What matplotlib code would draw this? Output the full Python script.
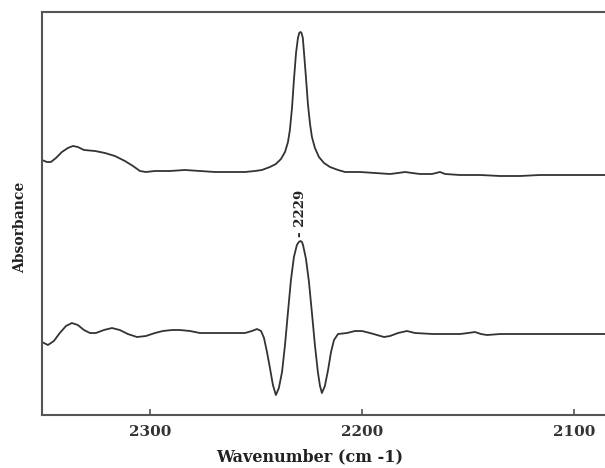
import matplotlib
matplotlib.use("Agg")
import matplotlib.pyplot as plt

# Wavenumber (cm-1) and absorbance (arbitrary units, offset) for the two traces
upper_wn = [2350.9, 2348.6, 2346.7, 2344.3, 2341.5, 2338.7, 2336.3, 2334.0, 2331.1,
            2325.9, 2321.2, 2316.5, 2311.8, 2308.0, 2304.7, 2301.9, 2297.6, 2290.6,
            2283.5, 2276.4, 2269.3, 2262.3, 2255.2, 2250.5, 2247.2, 2243.4, 2240.6,
            2238.2, 2236.3, 2234.9, 2234.0, 2233.0, 2232.1, 2231.1, 2230.2, 2229.6,
            2229.0, 2228.5, 2227.9, 2227.4, 2226.4, 2225.5, 2224.5, 2223.6, 2222.2,
            2220.3, 2217.9, 2215.1, 2211.3, 2208.0, 2200.9, 2193.9, 2186.8, 2183.0,
            2179.7, 2176.4, 2172.6, 2167.0, 2163.2, 2160.8, 2153.8, 2144.3, 2134.9,
            2125.5, 2116.0, 2106.6, 2097.2, 2085.4]
upper_abs = [2.55, 2.53, 2.53, 2.57, 2.63, 2.67, 2.69, 2.68, 2.65,
             2.64, 2.62, 2.59, 2.54, 2.49, 2.44, 2.43, 2.44, 2.44,
             2.45, 2.44, 2.43, 2.43, 2.43, 2.44, 2.45, 2.48, 2.51,
             2.56, 2.63, 2.73, 2.85, 3.07, 3.35, 3.62, 3.77, 3.82,
             3.83, 3.82, 3.77, 3.64, 3.37, 3.11, 2.91, 2.78, 2.67,
             2.58, 2.52, 2.48, 2.45, 2.43, 2.43, 2.42, 2.41, 2.42,
             2.43, 2.42, 2.41, 2.41, 2.43, 2.41, 2.40, 2.40, 2.39,
             2.39, 2.40, 2.40, 2.40, 2.40]

lower_wn = [2350.9, 2348.1, 2345.3, 2342.5, 2339.6, 2336.8, 2334.0, 2331.1, 2328.3,
            2325.5, 2321.7, 2317.9, 2314.2, 2310.4, 2306.1, 2301.9, 2297.6, 2293.9,
            2289.6, 2285.8, 2281.1, 2276.4, 2269.3, 2260.8, 2255.2, 2251.9, 2249.5,
            2247.6, 2246.2, 2244.8, 2243.4, 2242.0, 2240.6, 2239.2, 2237.7, 2236.3,
            2234.9, 2233.5, 2232.1, 2230.7, 2229.8, 2229.0, 2228.3, 2227.8, 2226.4,
            2225.0, 2223.6, 2222.2, 2220.8, 2219.8, 2218.9, 2217.5, 2216.0, 2214.6,
            2213.2, 2211.3, 2207.1, 2203.3, 2200.0, 2196.2, 2192.9, 2189.6, 2186.8,
            2183.0, 2178.8, 2175.0, 2166.5, 2153.8, 2150.0, 2146.7, 2143.9, 2141.0,
            2134.9, 2119.3, 2101.9, 2085.4]
lower_abs = [0.73, 0.70, 0.74, 0.82, 0.89, 0.92, 0.90, 0.85, 0.82,
             0.82, 0.85, 0.87, 0.85, 0.81, 0.78, 0.79, 0.82, 0.84,
             0.85, 0.85, 0.84, 0.82, 0.82, 0.82, 0.82, 0.84, 0.86,
             0.84, 0.77, 0.63, 0.47, 0.30, 0.20, 0.27, 0.43, 0.70,
             1.03, 1.35, 1.58, 1.70, 1.73, 1.74, 1.73, 1.70, 1.56,
             1.33, 1.02, 0.70, 0.43, 0.29, 0.22, 0.29, 0.45, 0.63,
             0.75, 0.81, 0.82, 0.84, 0.84, 0.82, 0.80, 0.78, 0.79,
             0.82, 0.84, 0.82, 0.81, 0.81, 0.82, 0.83, 0.81, 0.80,
             0.81, 0.81, 0.81, 0.81]

peak_wn = 2229
peak_label = "- 2229"
x_ticks = [2300, 2200, 2100]

font = {"family": "DejaVu Serif", "weight": "bold"}
ink = "#333333"

fig = plt.figure(figsize=(6.05, 4.68), dpi=100)
ax = fig.add_axes([0.0694, 0.1132, 0.9306, 0.8612])

ax.plot(upper_wn, upper_abs, color=ink, lw=1.3)
ax.plot(lower_wn, lower_abs, color=ink, lw=1.3)

ax.set_xlim(2350.9, 2085.4)
ax.set_ylim(0, 4.03)

ax.text(peak_wn, 1.78, peak_label, rotation=90, ha="center", va="bottom",
        fontsize=9.5, color="#222222", **font)

ax.set_xticks(x_ticks)
ax.set_xticklabels([str(t) for t in x_ticks], fontsize=11, color="#333333", **font)
ax.set_yticks([])
ax.tick_params(axis="x", direction="in", length=4, width=1.2, color="#555555", pad=7)

for side in ("left", "top", "bottom"):
    ax.spines[side].set_color("#555555")
    ax.spines[side].set_linewidth(1.5)
ax.spines["right"].set_visible(False)

ax.set_xlabel("Wavenumber (cm -1)", fontsize=11.5, color="#222222", labelpad=7,
              x=0.476, **font)
ax.set_ylabel("Absorbance", fontsize=10, color="#222222", labelpad=11,
              y=0.466, **font)

fig.savefig("out.png", dpi=100)
